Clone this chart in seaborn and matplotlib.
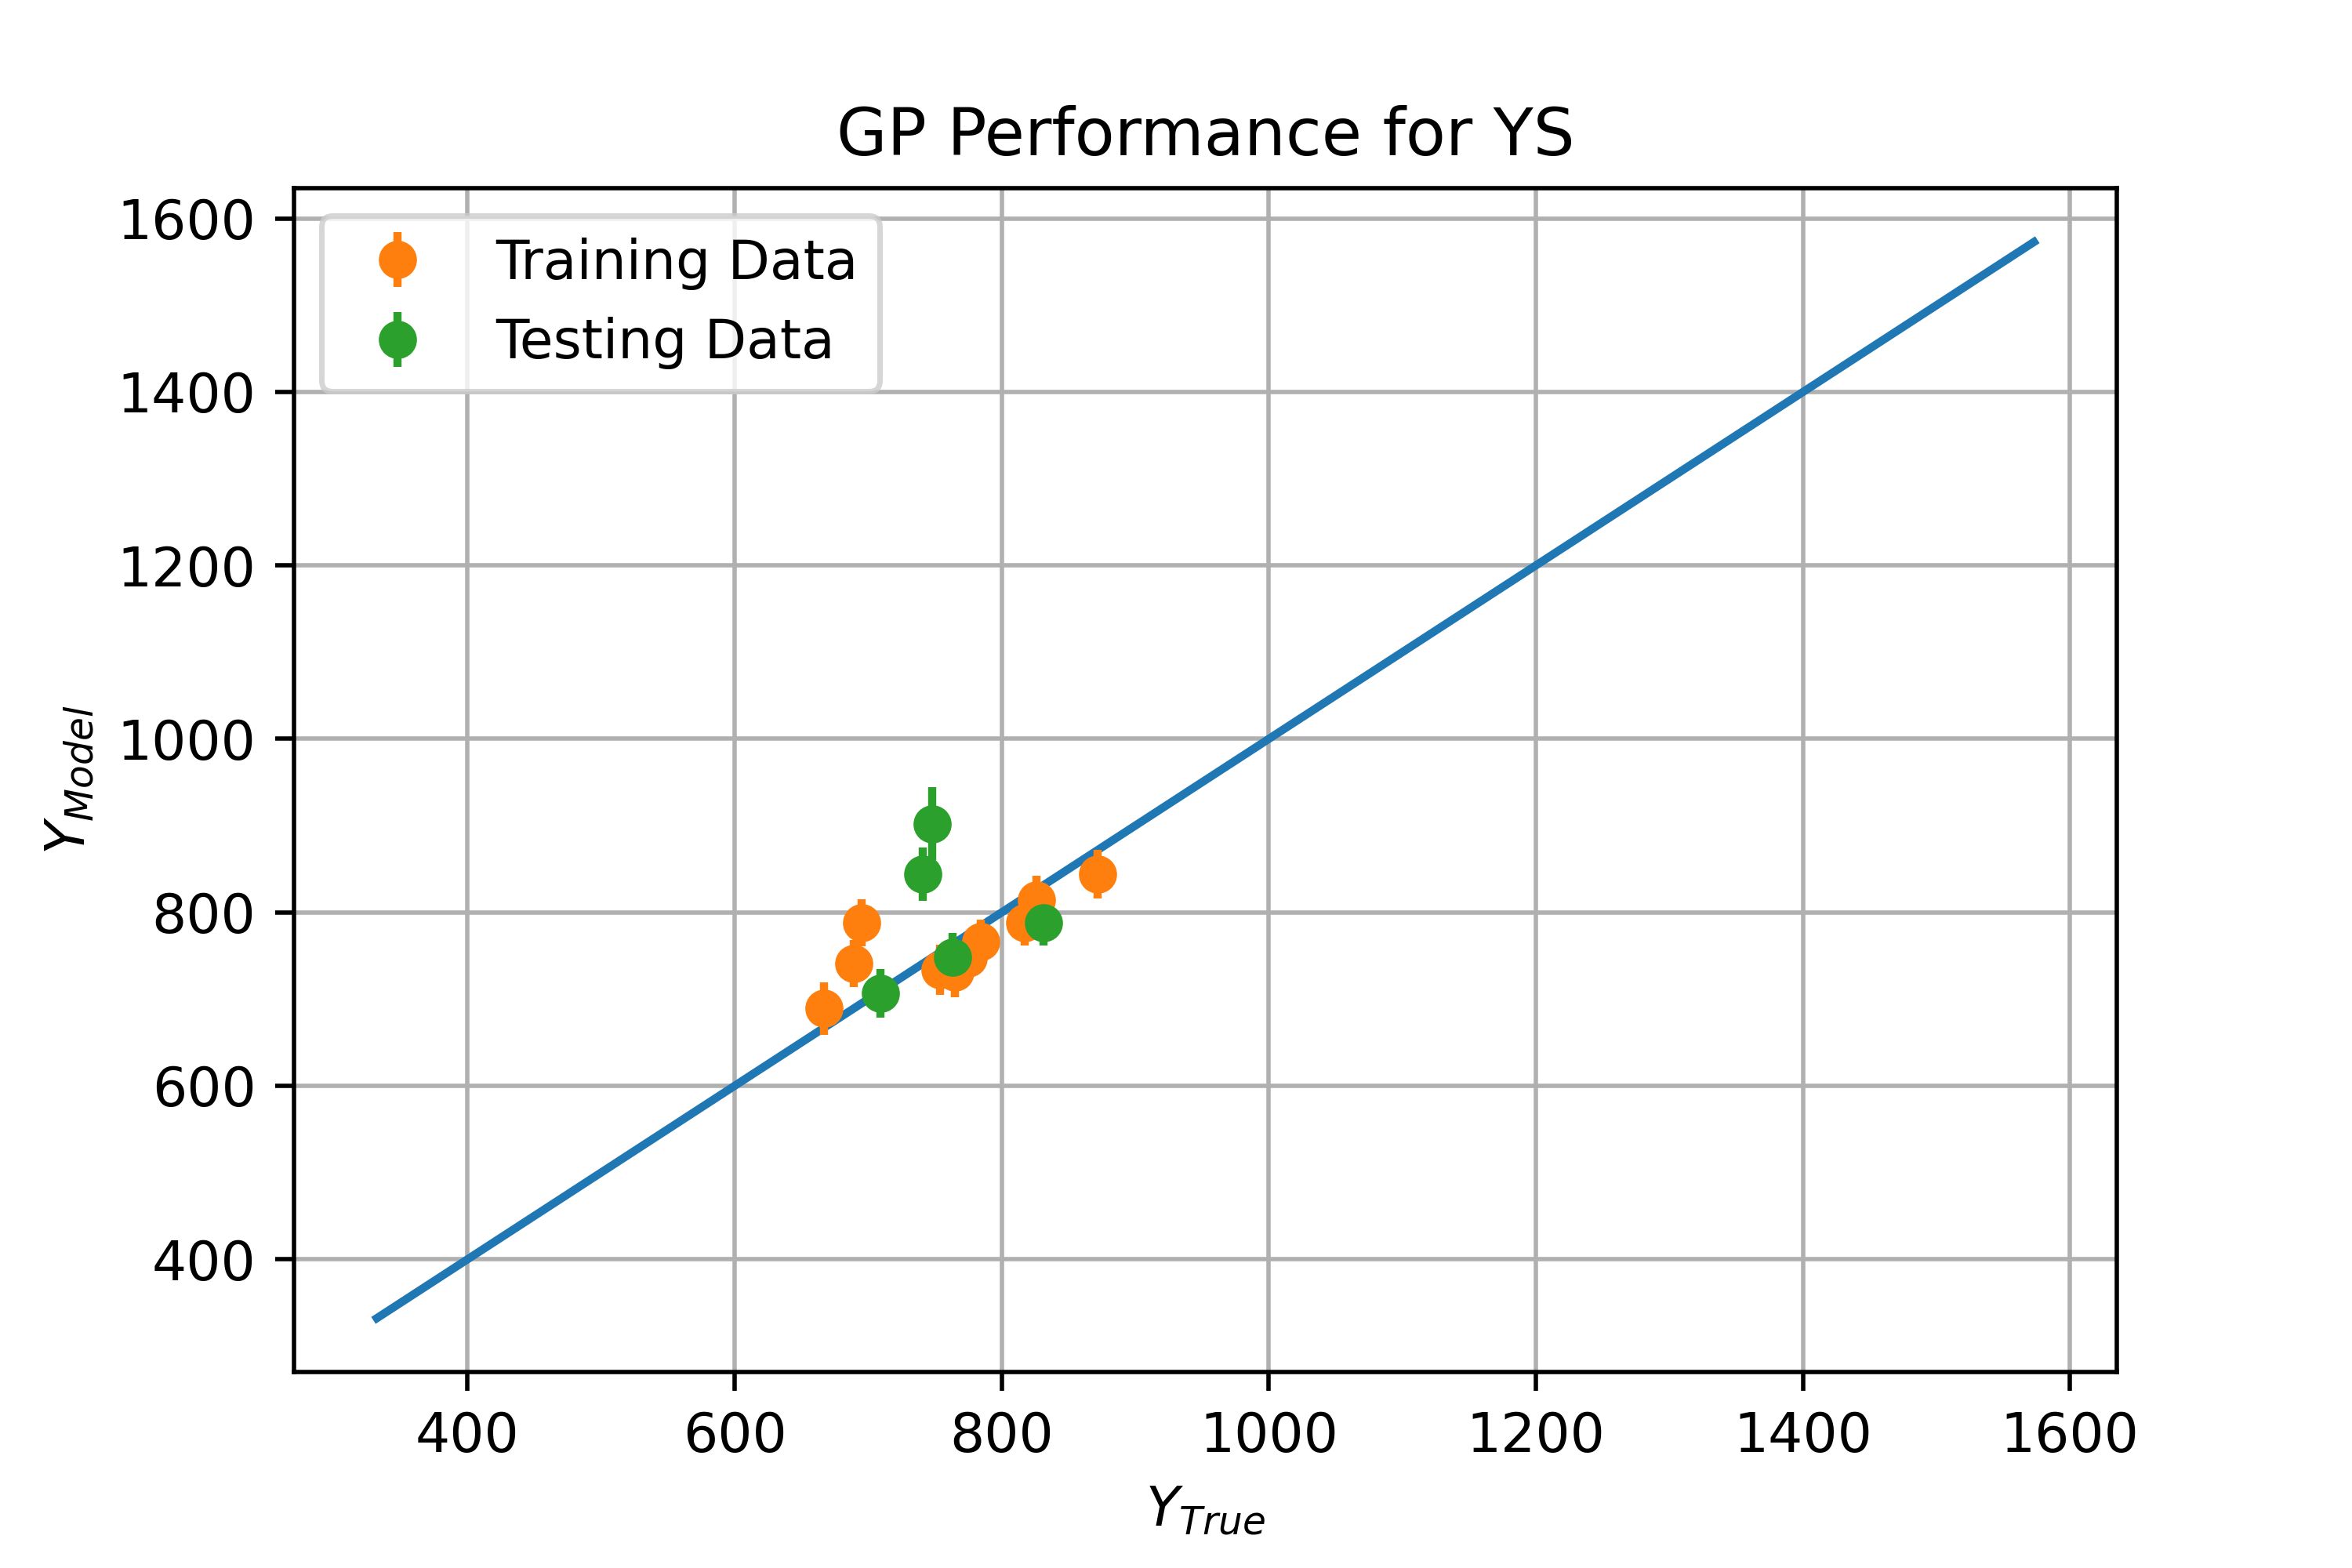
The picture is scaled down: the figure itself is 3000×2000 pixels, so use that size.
import numpy as np
import matplotlib
matplotlib.use("Agg")
import matplotlib.pyplot as plt
import seaborn as sns

# parity line end points
line_vals = [332, 1573]

# training data: true value, model prediction, model std
train_true = [667, 689, 695, 754, 765, 775, 784, 817, 826, 872]
train_pred = [689, 741, 788, 734, 731, 747, 766, 788, 814, 844]
train_err = [30, 27, 27, 29, 29, 26, 26, 26, 28, 28]

# testing data
test_true = [748, 741, 709, 763, 831]
test_pred = [902, 844, 707, 748, 788]
test_err = [42, 31, 28, 28, 26]

fig, ax = plt.subplots(figsize=(6, 4), dpi=500)
fig.subplots_adjust(bottom=0.125)

sns.lineplot(x=line_vals, y=line_vals, ax=ax, color="C0", linewidth=1.5, legend=False)
ax.errorbar(train_true, train_pred, yerr=train_err, fmt="o", color="C1", label="Training Data")
ax.errorbar(test_true, test_pred, yerr=test_err, fmt="o", color="C2", label="Testing Data")

ax.set_title("GP Performance for YS")
ax.set_xlabel("$Y_{True}$")
ax.set_ylabel("$Y_{Model}$")
ax.grid(True)
ax.legend(loc="upper left")

fig.savefig("out.png", dpi=500)
